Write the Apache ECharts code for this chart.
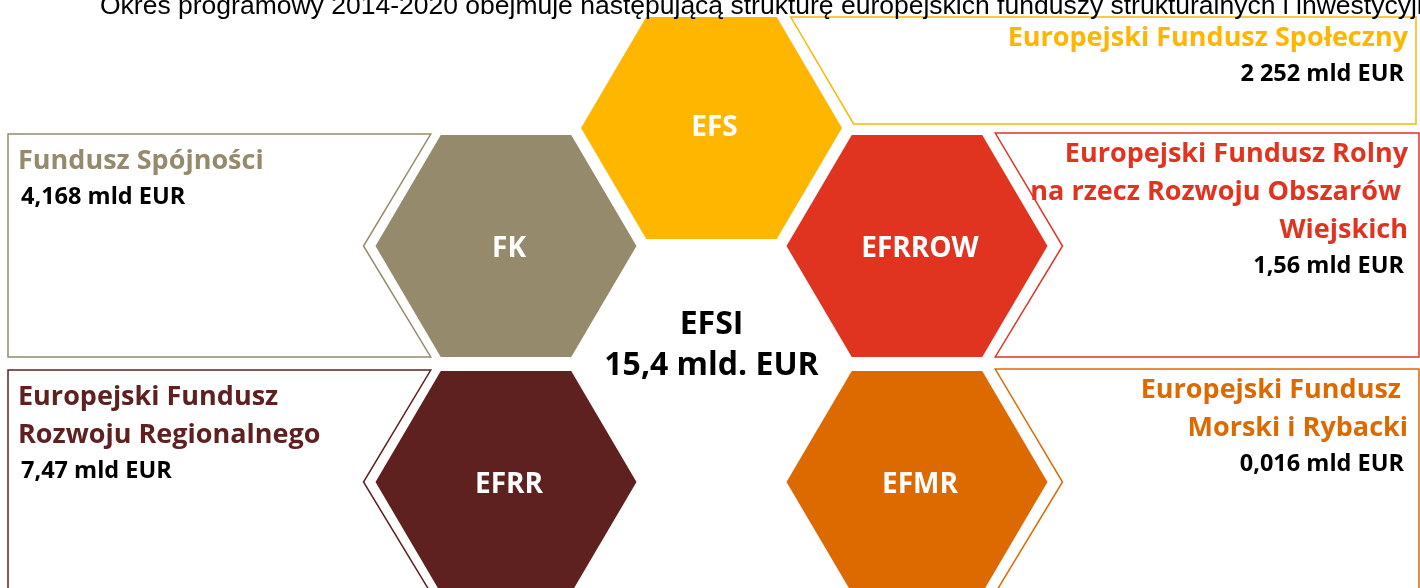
<!DOCTYPE html>
<html>
<head>
<meta charset="utf-8">
<script src="https://cdn.jsdelivr.net/npm/echarts@6/dist/echarts.min.js"></script>
<style>
	html, body { margin: 0; padding: 0; background: #fff; }
	#main { width: 1420px; height: 588px; }
</style>
</head>
<body>
<div id="main"></div>
<script>
// dane
var pageTitle = 'Okres programowy 2014-2020 obejmuje następującą strukturę europejskich funduszy strukturalnych i inwestycyjnych';
var centerCode = 'EFSI';
var centerAmount = '15,4 mld. EUR';
var fundCodes = ['EFS', 'FK', 'EFRROW', 'EFRR', 'EFMR'];
var fundNames = [
	['Europejski Fundusz Społeczny'],
	['Fundusz Spójności'],
	['Europejski Fundusz Rolny', 'na rzecz Rozwoju Obszarów ', 'Wiejskich'],
	['Europejski Fundusz', 'Rozwoju Regionalnego'],
	['Europejski Fundusz ', 'Morski i Rybacki']
];
var fundAmounts = ['2 252 mld EUR', '4,168 mld EUR', '1,56 mld EUR', '7,47 mld EUR', '0,016 mld EUR'];
// pozycja w plastrze miodu (kolumna, pol-wiersz)
var hexCols = [0, -1, 1, -1, 1];
var hexRows = [-2, -1, -1, 1, 1];

var fundColors = ['#FFB600', '#968A6D', '#E03421', '#5E2120', '#DD6A00'];
var FONT = '"Open Sans", Lato, sans-serif';

var chart = echarts.init(document.getElementById('main'));

var hexData = fundCodes.map(function (c, i) {
	return [hexCols[i], hexRows[i], i];
});

function hexPoints(cx, cy, rx, ry) {
	return [
		[cx - rx, cy], [cx - rx / 2, cy - ry], [cx + rx / 2, cy - ry],
		[cx + rx, cy], [cx + rx / 2, cy + ry], [cx - rx / 2, cy + ry]
	];
}

function renderHex(params, api) {
	var i = api.value(2);
	var c = api.coord([api.value(0), api.value(1)]);
	var colPx = api.size([1, 0])[0];
	var rowPx = api.size([0, 1])[1];
	var cx = c[0], cy = c[1];
	var rx = colPx * 0.635, ry = rowPx * 0.94;
	var color = fundColors[i];
	var W = 1420;
	var top, bottom, box, side;
	var col = api.value(0), row = api.value(1);
	if (row <= -2) side = 'top';
	else if (col < 0) side = 'left';
	else side = 'right';

	if (side === 'top') {
		top = cy - ry;
		bottom = cy - 4;
		var x0 = cx + rx / 2 + 14;
		var x0b = x0 + (bottom - top) * (rx / 2) / ry;
		box = [[x0, top], [W - 4, top], [W - 4, bottom], [x0b, bottom]];
	} else if (side === 'left') {
		top = cy - ry - 1;
		bottom = cy + ry;
		var x1 = cx - rx / 2 - 10;
		box = [[8, top], [x1, top], [cx - rx - 12, cy], [x1, bottom], [8, bottom]];
	} else {
		top = cy - ry - 2;
		bottom = cy + ry;
		var xl = cx + rx / 2 + 13;
		box = [[xl, top], [W - 1, top], [W - 1, bottom], [xl, bottom], [cx + rx + 15, cy]];
	}

	var children = [
		{
			type: 'polygon',
			shape: { points: box },
			style: { fill: '#fff', stroke: color, lineWidth: 1.5 }
		},
		{
			type: 'polygon',
			shape: { points: hexPoints(cx, cy, rx, ry) },
			style: { fill: color }
		},
		{
			type: 'text',
			style: {
				text: fundCodes[i], x: cx + 3, y: cy + (side === 'top' ? 0 : 3), fill: '#fff',
				font: 'bold 28px ' + FONT, align: 'center', verticalAlign: 'middle'
			}
		}
	];

	var lines = fundNames[i];
	var align = side === 'left' ? 'left' : 'right';
	var tx = side === 'left' ? 18 : W - 12;
	var ax = side === 'left' ? 21 : W - 16;
	var y = top + (side === 'left' ? 27 : 21);
	lines.forEach(function (ln) {
		children.push({
			type: 'text',
			style: {
				text: ln, x: tx, y: y, fill: color,
				font: 'bold 27px ' + FONT, align: align, verticalAlign: 'middle'
			}
		});
		y += 38;
	});
	children.push({
		type: 'text',
		style: {
			text: fundAmounts[i], x: ax, y: y - 2, fill: '#000',
			font: 'bold 23.5px ' + FONT, align: align, verticalAlign: 'middle'
		}
	});

	return { type: 'group', children: children };
}

function renderCenter(params, api) {
	var c = api.coord([api.value(0), api.value(1)]);
	return {
		type: 'group',
		children: [
			{ type: 'text', style: { text: centerCode, x: c[0], y: c[1] - 39, fill: '#000', font: 'bold 32px ' + FONT, align: 'center', verticalAlign: 'middle' } },
			{ type: 'text', style: { text: centerAmount, x: c[0], y: c[1] + 2, fill: '#000', font: 'bold 32px ' + FONT, align: 'center', verticalAlign: 'middle' } }
		]
	};
}

var option = {
	animation: false,
	title: {
		text: pageTitle,
		left: 95,
		top: -12,
		textStyle: { fontFamily: '"Liberation Sans", Arial, sans-serif', fontWeight: 'normal', fontSize: 26.5, color: '#000' }
	},
	grid: { left: 506, right: 503, top: 128, bottom: 106 },
	xAxis: { type: 'value', min: -1, max: 1, show: false },
	yAxis: { type: 'value', min: -2, max: 1, inverse: true, show: false },
	series: [
		{
			type: 'custom',
			clip: false,
			data: hexData,
			renderItem: renderHex,
			encode: { x: 0, y: 1 }
		},
		{
			type: 'custom',
			clip: false,
			data: [[0, 0]],
			renderItem: renderCenter,
			encode: { x: 0, y: 1 }
		}
	]
};
chart.setOption(option);
</script>
</body>
</html>
